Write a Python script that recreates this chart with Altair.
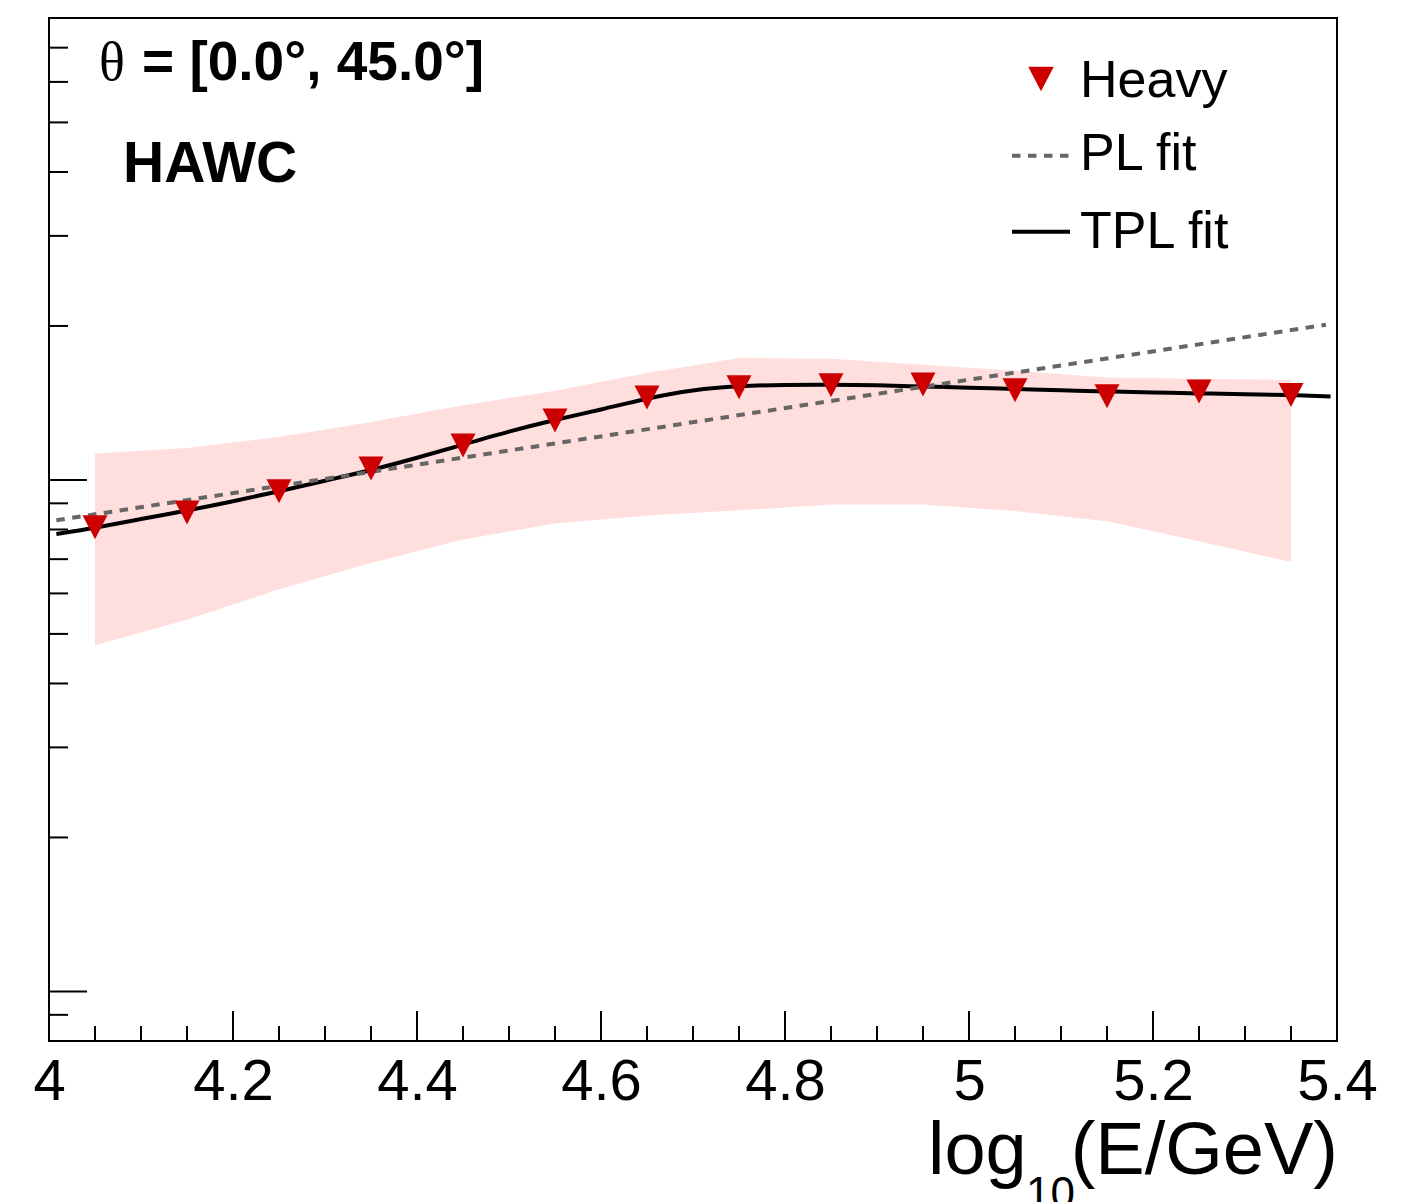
import altair as alt
import pandas as pd

# ---------------- data ----------------
energy = [4.05, 4.15, 4.25, 4.35, 4.45, 4.55, 4.65, 4.75, 4.85, 4.95, 5.05, 5.15, 5.25, 5.35]
heavy = [0.808, 0.864, 0.950, 1.053, 1.168, 1.307, 1.449, 1.518, 1.532, 1.537, 1.497, 1.457, 1.489, 1.465]
band_lo = [0.475, 0.533, 0.611, 0.688, 0.765, 0.822, 0.852, 0.872, 0.895, 0.895, 0.869, 0.830, 0.759, 0.691]
band_hi = [1.126, 1.155, 1.213, 1.298, 1.399, 1.494, 1.618, 1.731, 1.725, 1.680, 1.635, 1.586, 1.577, 1.568]

pl_x = [4.008, 5.388]
pl_y = [0.834, 2.011]

tpl_x = [4.008, 4.05, 4.10, 4.15, 4.20, 4.25, 4.30, 4.35, 4.40, 4.45, 4.50, 4.55, 4.60, 4.65,
         4.70, 4.75, 4.80, 4.85, 4.90, 4.95, 5.00, 5.05, 5.10, 5.15, 5.20, 5.25, 5.30, 5.35, 5.393]
tpl_y = [0.7843, 0.8057, 0.8392, 0.8709, 0.9083, 0.9500, 0.9968, 1.0441, 1.1041, 1.1721,
         1.2441, 1.3113, 1.3718, 1.4446, 1.5009, 1.5268, 1.5350, 1.5364, 1.5316, 1.5227,
         1.5145, 1.5057, 1.4976, 1.4895, 1.4829, 1.4762, 1.4709, 1.4656, 1.4564]

x_major = [4.0, 4.2, 4.4, 4.6, 4.8, 5.0, 5.2, 5.4]
x_minor = [4.05, 4.1, 4.15, 4.25, 4.3, 4.35, 4.45, 4.5, 4.55, 4.65, 4.7, 4.75,
           4.85, 4.9, 4.95, 5.05, 5.1, 5.15, 5.25, 5.3, 5.35]
y_major = [0.1, 1.0]
y_minor = [0.09, 0.2, 0.3, 0.4, 0.5, 0.6, 0.7, 0.8, 0.9, 2, 3, 4, 5, 6, 7]

legend_labels = ["Heavy", "PL fit", "TPL fit"]
title_parts = ["log", "10", "(E/GeV)"]
theta_sym = "\u03b8"
theta_range = "= [0.0\u00b0, 45.0\u00b0]"
experiment = "HAWC"

# ---------------- styling ----------------
W, H = 1288, 1023
RED = "#cc0000"
GRAY = "#666666"
PINK = "#ffdede"
FONT = "Liberation Sans"
TRI = "M-1,-0.96L1,-0.96L0,0.96Z"
DASH = [8.5, 7.5]

xs = alt.Scale(domain=[4.0, 5.4], nice=False, zero=False)
ys = alt.Scale(type="log", domain=[0.08, 8], nice=False)
xaxis = alt.Axis(values=x_major, format="~g", ticks=False, tickSize=0, domain=False, grid=False,
                 labelFontSize=58, labelFont=FONT, labelColor="black", labelPadding=12,
                 labelFlush=False, labelOverlap=False, labelBound=False, title=None)

df_pts = pd.DataFrame({"e": energy, "v": heavy, "lo": band_lo, "hi": band_hi})
df_pl = pd.DataFrame({"e": pl_x, "v": pl_y})
df_tpl = pd.DataFrame({"e": tpl_x, "v": tpl_y})
one = pd.DataFrame({"k": [0]})

band = alt.Chart(df_pts).mark_area(color=PINK, opacity=1).encode(
    x=alt.X("e:Q", scale=xs, axis=xaxis),
    y=alt.Y("lo:Q", scale=ys, axis=None),
    y2="hi:Q",
)

def xticks(vals, length):
    return alt.Chart(pd.DataFrame({"t": vals})).mark_rule(color="black", strokeWidth=2).encode(
        x=alt.X("t:Q", scale=xs, axis=xaxis),
        y=alt.value(H), y2=alt.value(H - length))

def yticks(vals, length):
    return alt.Chart(pd.DataFrame({"t": vals})).mark_rule(color="black", strokeWidth=2).encode(
        y=alt.Y("t:Q", scale=ys, axis=None),
        x=alt.value(0), x2=alt.value(length))

tpl = alt.Chart(df_tpl).mark_line(color="black", strokeWidth=4, interpolate="basis").encode(
    x=alt.X("e:Q", scale=xs, axis=xaxis), y=alt.Y("v:Q", scale=ys, axis=None))
pl = alt.Chart(df_pl).mark_line(color=GRAY, strokeWidth=4, strokeDash=DASH).encode(
    x=alt.X("e:Q", scale=xs, axis=xaxis), y=alt.Y("v:Q", scale=ys, axis=None))
points = alt.Chart(df_pts).mark_point(shape=TRI, filled=True, size=625, color=RED,
                                      opacity=1, strokeWidth=0).encode(
    x=alt.X("e:Q", scale=xs, axis=xaxis), y=alt.Y("v:Q", scale=ys, axis=None))

def label(txt, x, y, size, weight="normal", font=FONT, align="left"):
    return alt.Chart(one).mark_text(text=txt, font=font, fontSize=size, fontWeight=weight,
                                    align=align, baseline="alphabetic", color="black").encode(
        x=alt.value(x), y=alt.value(y))

# legend keys
leg_tri = alt.Chart(one).mark_point(shape=TRI, filled=True, size=650, color=RED, opacity=1,
                                    strokeWidth=0).encode(x=alt.value(992), y=alt.value(61))
leg_pl = alt.Chart(one).mark_rule(color=GRAY, strokeWidth=4, strokeDash=DASH).encode(
    x=alt.value(963), x2=alt.value(1021), y=alt.value(137.7))
leg_tpl = alt.Chart(one).mark_rule(color="black", strokeWidth=4).encode(
    x=alt.value(963), x2=alt.value(1021), y=alt.value(213.7))

layers = [
    band,
    xticks(x_major, 30), xticks(x_minor, 15),
    yticks(y_major, 38), yticks(y_minor, 19),
    tpl, pl, points,
    leg_tri, leg_pl, leg_tpl,
    label(legend_labels[0], 1031, 78.7, 52),
    label(legend_labels[1], 1031, 152, 52),
    label(legend_labels[2], 1031, 230, 52),
    label(theta_sym, 50, 62, 54, font="Liberation Serif"),
    label(theta_range, 93, 61.5, 55, weight="bold"),
    label(experiment, 74, 163.7, 57, weight="bold"),
    label(title_parts[0], 879, 1156, 74),
    label(title_parts[1], 977, 1190, 44),
    label(title_parts[2], 1289, 1156, 74, align="right"),
]

chart = alt.layer(*layers).properties(
    width=W, height=H,
    autosize=alt.AutoSizeParams(type="none"),
    padding={"left": 41, "top": 10, "right": 45, "bottom": 170},
).configure_view(stroke="black", strokeWidth=2)

chart.save("out.html", embed_options={"renderer": "svg", "actions": False})
